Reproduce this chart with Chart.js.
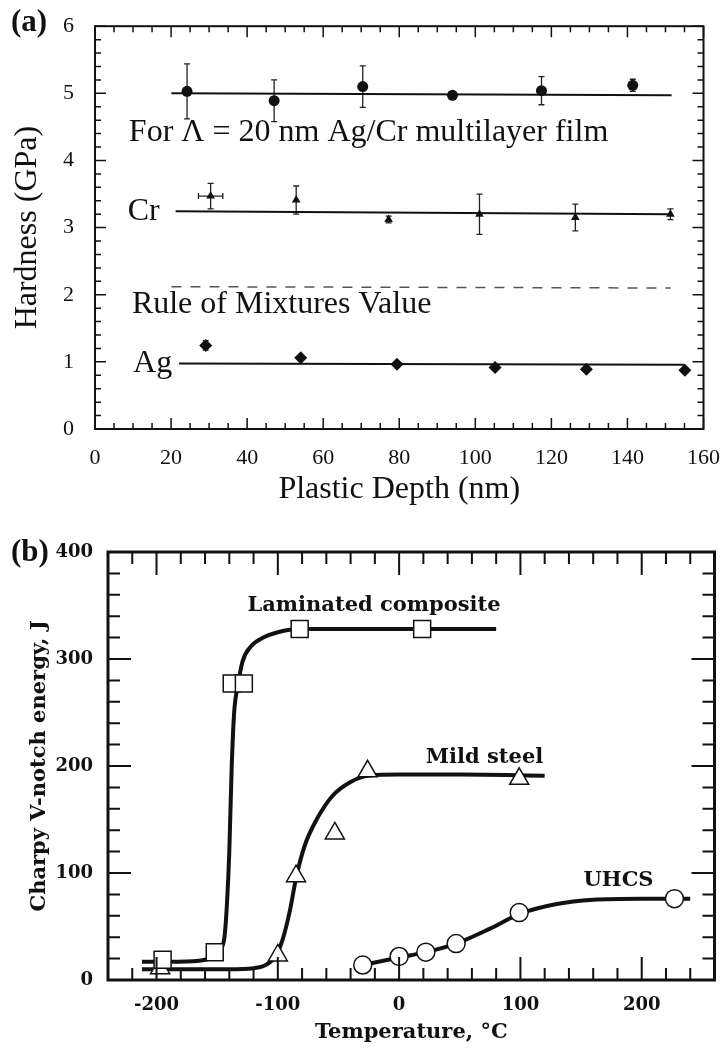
<!DOCTYPE html>
<html>
<head>
<meta charset="utf-8">
<script src="https://cdn.jsdelivr.net/npm/chart.js@4.4.1/dist/chart.umd.min.js"></script>
<style>
  html, body { margin: 0; padding: 0; background: #fff; }
  #wrapA { position: absolute; left: 0; top: 0; width: 728px; height: 512px; }
  #wrapB { position: absolute; left: 0; top: 512px; width: 728px; height: 536px; }
</style>
</head>
<body>
<div id="wrapA"><canvas id="chartA" width="728" height="512"></canvas></div>
<div id="wrapB"><canvas id="chartB" width="728" height="536"></canvas></div>
<script>
// ---- (a) hardness of Ag/Cr multilayer film vs plastic depth ----
const depthML = [24.2, 47.1, 70.4, 94.0, 117.4, 141.4];
const hardML  = [5.03, 4.89, 5.10, 4.97, 5.04, 5.12];
const errML   = [0.41, 0.31, 0.31, 0.05, 0.21, 0.09];

const depthCr = [30.4, 52.9, 77.2, 101.1, 126.3, 151.3];
const hardCr  = [3.47, 3.41, 3.12, 3.20, 3.15, 3.20];
const errCr   = [0.19, 0.21, 0.05, 0.30, 0.20, 0.08];
const xerrCr  = [3.2, 0, 0, 0, 0, 0];

const depthAg = [29.1, 54.1, 79.4, 105.2, 129.2, 155.1];
const hardAg  = [1.245, 1.06, 0.966, 0.916, 0.89, 0.875];
const errAg   = [0.07, 0.02, 0, 0, 0, 0];

// fitted lines (end points)
const fitMLx = [20.1, 151.6], fitMLy = [5.0, 4.97];
const fitCrx = [21.2, 151.6], fitCry = [3.245, 3.20];
const mixX   = [20.1, 151.4], mixY   = [2.12, 2.10];
const fitAgx = [22.1, 154.9], fitAgy = [0.975, 0.956];

// ---- (b) Charpy V-notch energy vs temperature ----
const lamT  = [-195, -152, -138, -128, -82, 19];
const lamE  = [19, 26, 277, 277, 328, 328];
const mildT = [-197, -100, -85, -53, -26, 99];
const mildE = [11, 23, 97, 137, 195, 188];
const uhcsT = [-30, 0, 22, 47, 99, 227];
const uhcsE = [14, 22, 26, 34, 63, 76];
const tempTicks = [-200, -100, 0, 100, 200];

// hand-drawn trend curves
const lamCurveT  = [-212, -190, -165, -155, -148, -144, -142, -140, -138, -136, -133, -129, -122, -112, -100, -82, 0, 80];
const lamCurveE  = [17, 17, 18, 21, 28, 40, 70, 120, 200, 250, 275, 298, 312, 320, 325, 328, 328, 328];
const mildCurveT = [-212, -180, -140, -120, -110, -102, -96, -90, -85, -78, -68, -55, -40, -25, 0, 50, 120];
const mildCurveE = [10, 10, 10, 11, 14, 22, 38, 65, 95, 125, 150, 172, 185, 191, 192, 192, 191];
const uhcsCurveT = [-30, 0, 22, 47, 75, 100, 130, 160, 200, 240];
const uhcsCurveE = [14, 21, 26, 34, 48, 62, 71, 75, 76, 76];

const pts = (xs, ys) => xs.map((v, i) => ({x: v, y: ys[i]}));
const INK = '#111';

function isMajor(scale, v) {
  return scale.ticks.some(t => Math.abs(t.value - v) < 1e-6);
}

// inward tick marks on all four sides + frame
function frameTicks(o) {
  return {
    id: 'frameTicks',
    afterDatasetsDraw(chart) {
      const {ctx, chartArea: a, scales: {x, y}} = chart;
      ctx.save();
      ctx.strokeStyle = INK;
      ctx.lineWidth = o.tickWidth;
      ctx.beginPath();
      const nx = Math.round((x.max - x.min) / o.xStep);
      for (let i = 0; i <= nx; i++) {
        const v = x.min + i * o.xStep;
        const p = x.getPixelForValue(v);
        const len = isMajor(x, v) ? o.major : o.minor;
        ctx.moveTo(p, a.bottom); ctx.lineTo(p, a.bottom - len);
        ctx.moveTo(p, a.top); ctx.lineTo(p, a.top + len);
      }
      const ny = Math.round((y.max - y.min) / o.yStep);
      for (let i = 0; i <= ny; i++) {
        const v = y.min + i * o.yStep;
        const p = y.getPixelForValue(v);
        const len = isMajor(y, v) ? o.major : o.minor;
        ctx.moveTo(a.left, p); ctx.lineTo(a.left + len, p);
        ctx.moveTo(a.right, p); ctx.lineTo(a.right - len, p);
      }
      ctx.stroke();
      ctx.lineWidth = o.frameWidth;
      ctx.strokeRect(a.left, a.top, a.right - a.left, a.bottom - a.top);
      ctx.restore();
    }
  };
}

function errorBars(sets) {
  return {
    id: 'errorBars',
    beforeDatasetsDraw(chart) {
      const {ctx, scales: {x, y}} = chart;
      ctx.save();
      ctx.strokeStyle = '#222';
      ctx.lineWidth = 1.3;
      ctx.beginPath();
      sets.forEach(s => {
        s.x.forEach((xv, i) => {
          const px = x.getPixelForValue(xv), py = y.getPixelForValue(s.y[i]);
          if (s.dy && s.dy[i]) {
            const t = y.getPixelForValue(s.y[i] + s.dy[i]), b = y.getPixelForValue(s.y[i] - s.dy[i]);
            ctx.moveTo(px, t); ctx.lineTo(px, b);
            ctx.moveTo(px - 3, t); ctx.lineTo(px + 3, t);
            ctx.moveTo(px - 3, b); ctx.lineTo(px + 3, b);
          }
          if (s.dx && s.dx[i]) {
            const l = x.getPixelForValue(xv - s.dx[i]), r = x.getPixelForValue(xv + s.dx[i]);
            ctx.moveTo(l, py); ctx.lineTo(r, py);
            ctx.moveTo(l, py - 3); ctx.lineTo(l, py + 3);
            ctx.moveTo(r, py - 3); ctx.lineTo(r, py + 3);
          }
        });
      });
      ctx.stroke();
      ctx.restore();
    }
  };
}

// text notes; data:true means x/y are in axis units
function notes(items) {
  return {
    id: 'notes',
    afterDatasetsDraw(chart) {
      const {ctx, scales: {x, y}} = chart;
      ctx.save();
      ctx.fillStyle = INK;
      ctx.textBaseline = 'middle';
      ctx.textAlign = 'left';
      items.forEach(t => {
        ctx.font = t.font;
        const px = t.data ? x.getPixelForValue(t.x) : t.x;
        const py = t.data ? y.getPixelForValue(t.y) : t.y;
        ctx.fillText(t.text, px, py);
      });
      ctx.restore();
    }
  };
}

const SERIF = "'Liberation Serif', 'Times New Roman', serif";
const BOLDSERIF = "'DejaVu Serif', serif";

const lineSet = (xs, ys, extra) => Object.assign({
  data: pts(xs, ys), showLine: true, pointRadius: 0, borderColor: INK,
  borderWidth: 2, fill: false
}, extra || {});

// ---------- chart (a) ----------
new Chart(document.getElementById('chartA').getContext('2d'), {
  type: 'scatter',
  data: {
    datasets: [
      {data: pts(depthML, hardML), pointStyle: 'circle', pointRadius: 5.5, backgroundColor: INK, borderColor: INK, borderWidth: 0},
      {data: pts(depthCr, hardCr), pointStyle: 'triangle', pointRadius: 5, backgroundColor: INK, borderColor: INK, borderWidth: 0},
      {data: pts(depthAg, hardAg), pointStyle: 'rectRot', pointRadius: 6.5, backgroundColor: INK, borderColor: INK, borderWidth: 0},
      lineSet(fitMLx, fitMLy),
      lineSet(fitCrx, fitCry),
      lineSet(mixX, mixY, {borderColor: '#555', borderWidth: 1.5, borderDash: [10, 9]}),
      lineSet(fitAgx, fitAgy)
    ]
  },
  options: {
    responsive: false, animation: false, devicePixelRatio: 1, events: [],
    layout: {padding: {left: 0, top: 20, right: 22, bottom: 0}},
    plugins: {legend: {display: false}, tooltip: {enabled: false}},
    scales: {
      x: {
        type: 'linear', min: 0, max: 160,
        grid: {display: false}, border: {display: false},
        ticks: {stepSize: 20, padding: 8, color: INK, font: {family: SERIF, size: 22}},
        title: {display: true, text: 'Plastic Depth (nm)', color: INK, font: {family: SERIF, size: 32}, padding: {top: 0, bottom: 3}},
        afterFit: s => { s.height = 83; }
      },
      y: {
        type: 'linear', min: 0, max: 6,
        grid: {display: false}, border: {display: false},
        ticks: {stepSize: 1, padding: 13, color: INK, font: {family: SERIF, size: 22}},
        title: {display: true, text: 'Hardness (GPa)', color: INK, font: {family: SERIF, size: 32}, padding: {top: 8, bottom: 0}},
        afterFit: s => { s.width = 95; }
      }
    }
  },
  plugins: [
    errorBars([
      {x: depthML, y: hardML, dy: errML},
      {x: depthCr, y: hardCr, dy: errCr, dx: xerrCr},
      {x: depthAg, y: hardAg, dy: errAg}
    ]),
    frameTicks({xStep: 5, yStep: 0.2, major: 11, minor: 6, tickWidth: 1.5, frameWidth: 2}),
    notes([
      {text: '(a)', x: 11, y: 23, font: "bold 31px " + SERIF},
      {text: 'For \u039B = 20 nm Ag/Cr multilayer film', data: true, x: 8.9, y: 4.42, font: "32px " + SERIF},
      {text: 'Cr', data: true, x: 8.6, y: 3.24, font: "32px " + SERIF},
      {text: 'Rule of Mixtures Value', data: true, x: 9.7, y: 1.86, font: "32px " + SERIF},
      {text: 'Ag', data: true, x: 10, y: 0.98, font: "32px " + SERIF}
    ])
  ]
});

// ---------- chart (b) ----------
const openMark = {backgroundColor: '#fff', borderColor: INK, borderWidth: 1.5, showLine: false};
new Chart(document.getElementById('chartB').getContext('2d'), {
  type: 'scatter',
  data: {
    datasets: [
      Object.assign({data: pts(lamT, lamE), pointStyle: 'rect', pointRadius: 12}, openMark),
      Object.assign({data: pts(mildT, mildE), pointStyle: 'triangle', pointRadius: 11}, openMark),
      Object.assign({data: pts(uhcsT, uhcsE), pointStyle: 'circle', pointRadius: 9}, openMark),
      lineSet(lamCurveT, lamCurveE, {borderWidth: 4, cubicInterpolationMode: 'monotone'}),
      lineSet(mildCurveT, mildCurveE, {borderWidth: 4, cubicInterpolationMode: 'monotone'}),
      lineSet(uhcsCurveT, uhcsCurveE, {borderWidth: 4, cubicInterpolationMode: 'monotone'})
    ]
  },
  options: {
    responsive: false, animation: false, devicePixelRatio: 1, events: [],
    layout: {padding: {left: 0, top: 40, right: 10, bottom: 0}},
    plugins: {legend: {display: false}, tooltip: {enabled: false}},
    scales: {
      x: {
        type: 'linear', min: -240, max: 260,
        grid: {display: false}, border: {display: false},
        afterBuildTicks: s => { s.ticks = tempTicks.map(v => ({value: v})); },
        ticks: {padding: 7, color: INK, font: {family: BOLDSERIF, size: 18, weight: 'bold'}},
        title: {display: true, text: 'Temperature, \u00B0C', color: INK, font: {family: BOLDSERIF, size: 21, weight: 'bold'}, padding: {top: 0, bottom: 3}},
        afterFit: s => { s.height = 68; }
      },
      y: {
        type: 'linear', min: 0, max: 400,
        grid: {display: false}, border: {display: false},
        ticks: {stepSize: 100, padding: 7, color: INK, font: {family: BOLDSERIF, size: 18, weight: 'bold'}},
        title: {display: true, text: 'Charpy V-notch energy, J', color: INK, font: {family: BOLDSERIF, size: 21, weight: 'bold'}, padding: {top: 27, bottom: 0}},
        afterFit: s => { s.width = 108; }
      }
    }
  },
  plugins: [
    frameTicks({xStep: 20, yStep: 20, major: 23, minor: 12, tickWidth: 2, frameWidth: 3}),
    notes([
      {text: '(b)', x: 11, y: 41, font: "bold 31px " + SERIF},
      {text: 'Laminated composite', data: true, x: -125, y: 350, font: "bold 21px " + BOLDSERIF},
      {text: 'Mild steel', data: true, x: 22, y: 208, font: "bold 21px " + BOLDSERIF},
      {text: 'UHCS', data: true, x: 152, y: 93, font: "bold 21px " + BOLDSERIF}
    ])
  ]
});
</script>
</body>
</html>
